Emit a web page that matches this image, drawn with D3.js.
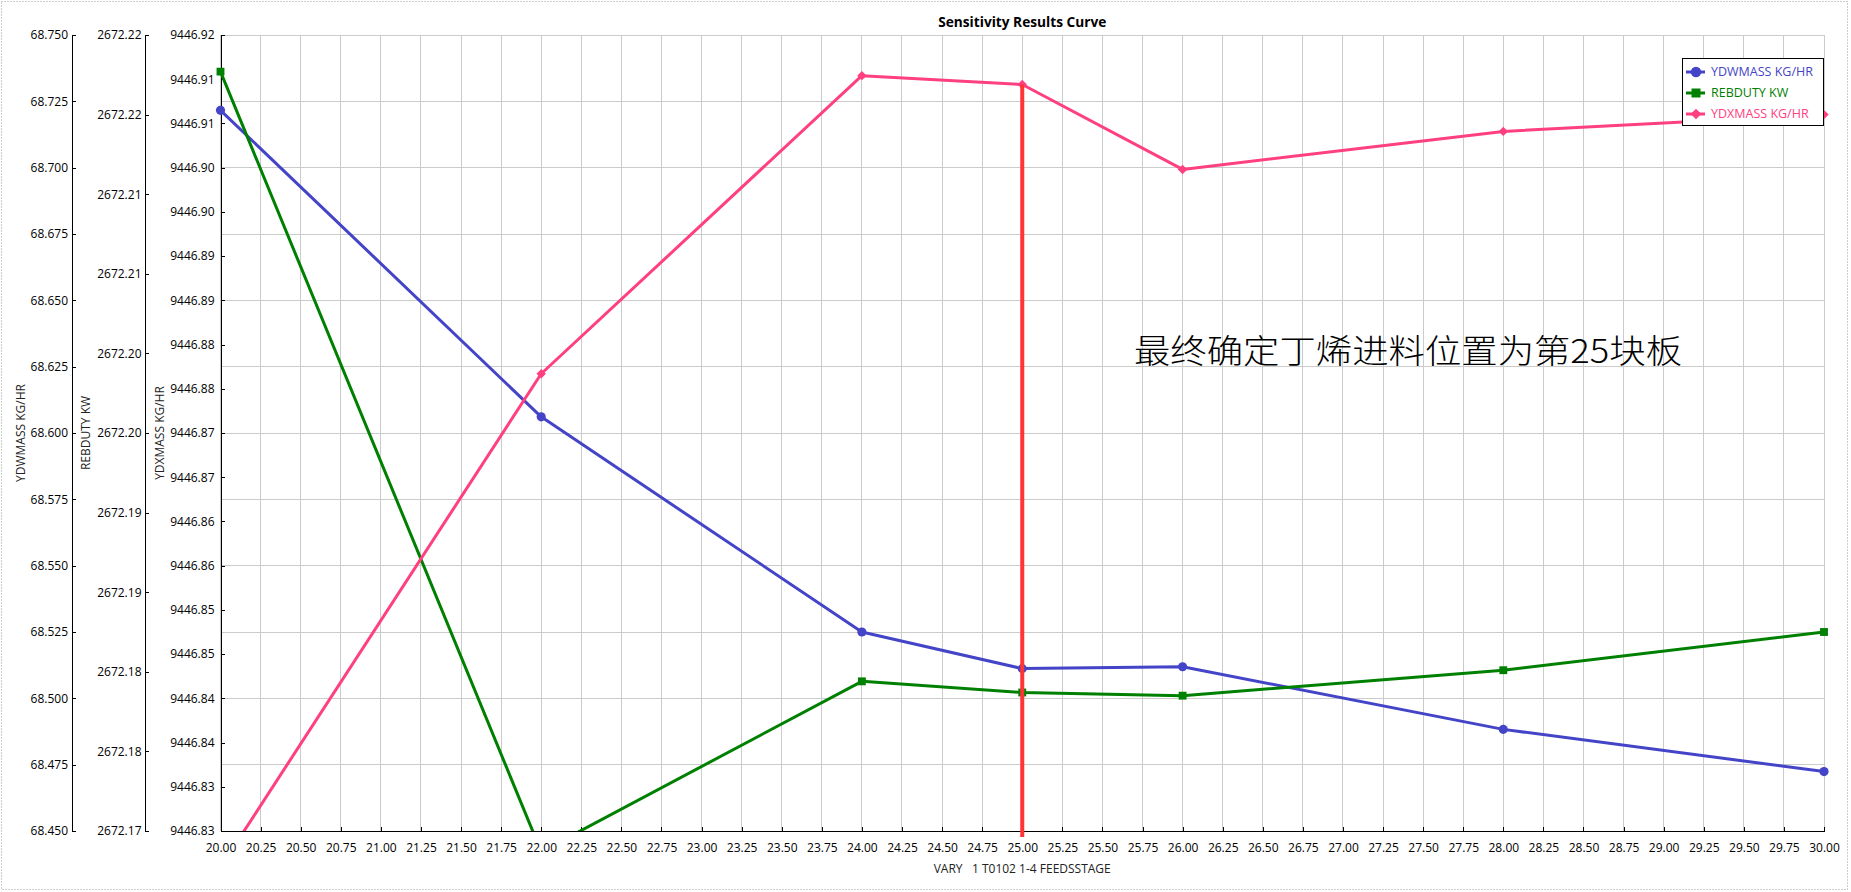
<!DOCTYPE html>
<html>
<head>
<meta charset="utf-8">
<script src="https://cdn.jsdelivr.net/npm/d3@7/dist/d3.min.js"></script>
<style>
  html, body { margin: 0; padding: 0; background: #fff; }
  svg { display: block; font-family: "Open Sans", "Noto Sans", sans-serif; }
</style>
</head>
<body>
<svg id="chart" width="1851" height="892"></svg>
<script>
// ---------------- DATA ----------------
const feedStage = [20, 22, 24, 25, 26, 28, 30];
const ydwmass = [68.7216, 68.6061, 68.5250, 68.5112, 68.5119, 68.4883, 68.4724];
const rebduty = [2672.2177, 2672.1687, 2672.1794, 2672.1787, 2672.1785, 2672.1801, 2672.1825];
const ydxmass = [9446.8259, 9446.8817, 9446.9154, 9446.9144, 9446.9048, 9446.9091, 9446.9110];

const seriesNames = ["YDWMASS KG/HR", "REBDUTY KW", "YDXMASS KG/HR"];
const axisTitles = ["YDWMASS KG/HR", "REBDUTY KW", "YDXMASS KG/HR"];
const chartTitle = "Sensitivity Results Curve";
const xTitle = "VARY   1 T0102 1-4 FEEDSSTAGE";
const annotation = "最终确定丁烯进料位置为第25块板";
const selectedStage = 25;

const xTickValues = d3.range(0, 41).map(i => 20 + i * 0.25);
const y1TickValues = d3.range(0, 13).map(i => 68.45 + i * 0.025);
const y1TickLabels = ["68.450","68.475","68.500","68.525","68.550","68.575","68.600","68.625","68.650","68.675","68.700","68.725","68.750"];
const y2TickValues = d3.range(0, 11).map(i => 2672.17 + i * 0.005);
const y2TickLabels = ["2672.17","2672.18","2672.18","2672.19","2672.19","2672.20","2672.20","2672.21","2672.21","2672.22","2672.22"];
const y3TickValues = d3.range(0, 19).map(i => 9446.83 + i * 0.005);
const y3TickLabels = ["9446.83","9446.83","9446.84","9446.84","9446.85","9446.85","9446.86","9446.86","9446.87","9446.87","9446.88","9446.88","9446.89","9446.89","9446.90","9446.90","9446.91","9446.91","9446.92"];

// ---------------- LAYOUT ----------------
const svg = d3.select("#chart");
const L = 220.5, R = 1824, T = 35, B = 831;
const colors = ["#4444c8", "#008000", "#ff4080"];

const x = d3.scaleLinear().domain([20, 30]).range([L, R]);
const y1 = d3.scaleLinear().domain([68.45, 68.75]).range([B, T]);
const y2 = d3.scaleLinear().domain([2672.17, 2672.22]).range([B, T]);
const y3 = d3.scaleLinear().domain([9446.83, 9446.92]).range([B, T]);

// outer dotted frame
svg.append("rect").attr("x", 1.5).attr("y", 1.5).attr("width", 1846).attr("height", 888)
  .attr("fill", "none").attr("stroke", "#9a9a9a").attr("stroke-dasharray", "1,2");

// grid
const grid = svg.append("g").attr("stroke", "#cbcbcb").attr("stroke-width", 1).attr("shape-rendering", "crispEdges");
grid.selectAll("line.v").data(xTickValues).join("line").attr("class", "v")
  .attr("x1", d => x(d)).attr("x2", d => x(d)).attr("y1", T).attr("y2", B);
grid.selectAll("line.h").data(y1TickValues).join("line").attr("class", "h")
  .attr("x1", L).attr("x2", R).attr("y1", d => y1(d)).attr("y2", d => y1(d));

// title
svg.append("text").attr("x", (L + R) / 2).attr("y", 27).attr("text-anchor", "middle")
  .attr("font-size", 13.7).attr("font-weight", "bold").attr("fill", "#000").text(chartTitle);

// axes
function styleAxis(g) {
  g.attr("font-family", "'Open Sans', 'Noto Sans', sans-serif").attr("font-size", 12);
  g.selectAll("path, line").attr("stroke", "#000").attr("shape-rendering", "crispEdges");
  g.selectAll("text").attr("fill", "#000");
}
const xAxis = svg.append("g").attr("transform", `translate(0,${B})`)
  .call(d3.axisBottom(x).tickValues(xTickValues).tickFormat(d3.format(".2f")).tickSize(-4).tickSizeOuter(0).tickPadding(12.5));
styleAxis(xAxis);

const ax1 = svg.append("g").attr("transform", "translate(72,0)")
  .call(d3.axisLeft(y1).tickValues(y1TickValues).tickFormat((d, i) => y1TickLabels[i]).tickSize(-4).tickSizeOuter(0).tickPadding(4));
styleAxis(ax1);
const ax2 = svg.append("g").attr("transform", "translate(144.5,0)")
  .call(d3.axisLeft(y2).tickValues(y2TickValues).tickFormat((d, i) => y2TickLabels[i]).tickSize(-4).tickSizeOuter(0).tickPadding(3));
styleAxis(ax2);
const ax3 = svg.append("g").attr("transform", `translate(${L},0)`)
  .call(d3.axisLeft(y3).tickValues(y3TickValues).tickFormat((d, i) => y3TickLabels[i]).tickSize(-4).tickSizeOuter(0).tickPadding(6));
styleAxis(ax3);

// axis titles
const titleX = [21, 86, 159.5];
axisTitles.forEach((t, i) => {
  svg.append("text").attr("transform", `translate(${titleX[i]},${(T + B) / 2}) rotate(-90)`)
    .attr("text-anchor", "middle").attr("dy", "0.35em").attr("font-size", 12).attr("fill", "#222").text(t);
});
svg.append("text").attr("x", (L + R) / 2).attr("y", 873).attr("text-anchor", "middle")
  .attr("font-size", 12).attr("fill", "#222").style("white-space", "pre").text(xTitle);

// clip
svg.append("clipPath").attr("id", "plotclip").append("rect")
  .attr("x", L - 10).attr("y", T).attr("width", R - L + 20).attr("height", B - T);

const series = [
  { vals: ydwmass, y: y1, shape: d3.symbolCircle, size: 66, rot: 0 },
  { vals: rebduty, y: y2, shape: d3.symbolSquare, size: 62, rot: 0 },
  { vals: ydxmass, y: y3, shape: d3.symbolSquare, size: 44, rot: 45 }
];

const plot = svg.append("g").attr("clip-path", "url(#plotclip)");
series.forEach((s, si) => {
  const pts = feedStage.map((f, i) => [x(f), s.y(s.vals[i])]);
  plot.append("path").attr("d", d3.line()(pts)).attr("fill", "none")
    .attr("stroke", colors[si]).attr("stroke-width", 3).attr("stroke-linejoin", "round");
  plot.selectAll(null).data(pts).join("path")
    .attr("transform", d => `translate(${d[0]},${d[1]}) rotate(${s.rot})`)
    .attr("d", d3.symbol().type(s.shape).size(s.size)).attr("fill", colors[si]);
});

// selected stage red line
const selIdx = feedStage.indexOf(selectedStage);
svg.append("line").attr("x1", x(selectedStage)).attr("x2", x(selectedStage))
  .attr("y1", y3(ydxmass[selIdx])).attr("y2", B + 6)
  .attr("stroke", "#ff3535").attr("stroke-width", 4);

// annotation
svg.append("text").attr("x", 1134).attr("y", 363).attr("font-family", "'Noto Sans CJK SC', sans-serif")
  .attr("font-size", 33).attr("font-weight", 300).attr("fill", "#000")
  .attr("textLength", 548).attr("lengthAdjust", "spacingAndGlyphs").text(annotation);

// legend
const lg = svg.append("g");
lg.append("rect").attr("x", 1682.5).attr("y", 58.5).attr("width", 141).attr("height", 67)
  .attr("fill", "#fff").attr("stroke", "#000").attr("stroke-width", 1);
const legY = [72, 93, 114];
series.forEach((s, si) => {
  lg.append("line").attr("x1", 1686).attr("x2", 1705).attr("y1", legY[si]).attr("y2", legY[si])
    .attr("stroke", colors[si]).attr("stroke-width", 3);
  lg.append("path").attr("transform", `translate(1696,${legY[si]}) rotate(${s.rot})`)
    .attr("d", d3.symbol().type(s.shape).size(s.size * 1.3)).attr("fill", colors[si]);
  lg.append("text").attr("x", 1711).attr("y", legY[si]).attr("dy", "0.35em")
    .attr("font-size", 12.5).attr("fill", colors[si]).text(seriesNames[si]);
});
</script>
</body>
</html>
